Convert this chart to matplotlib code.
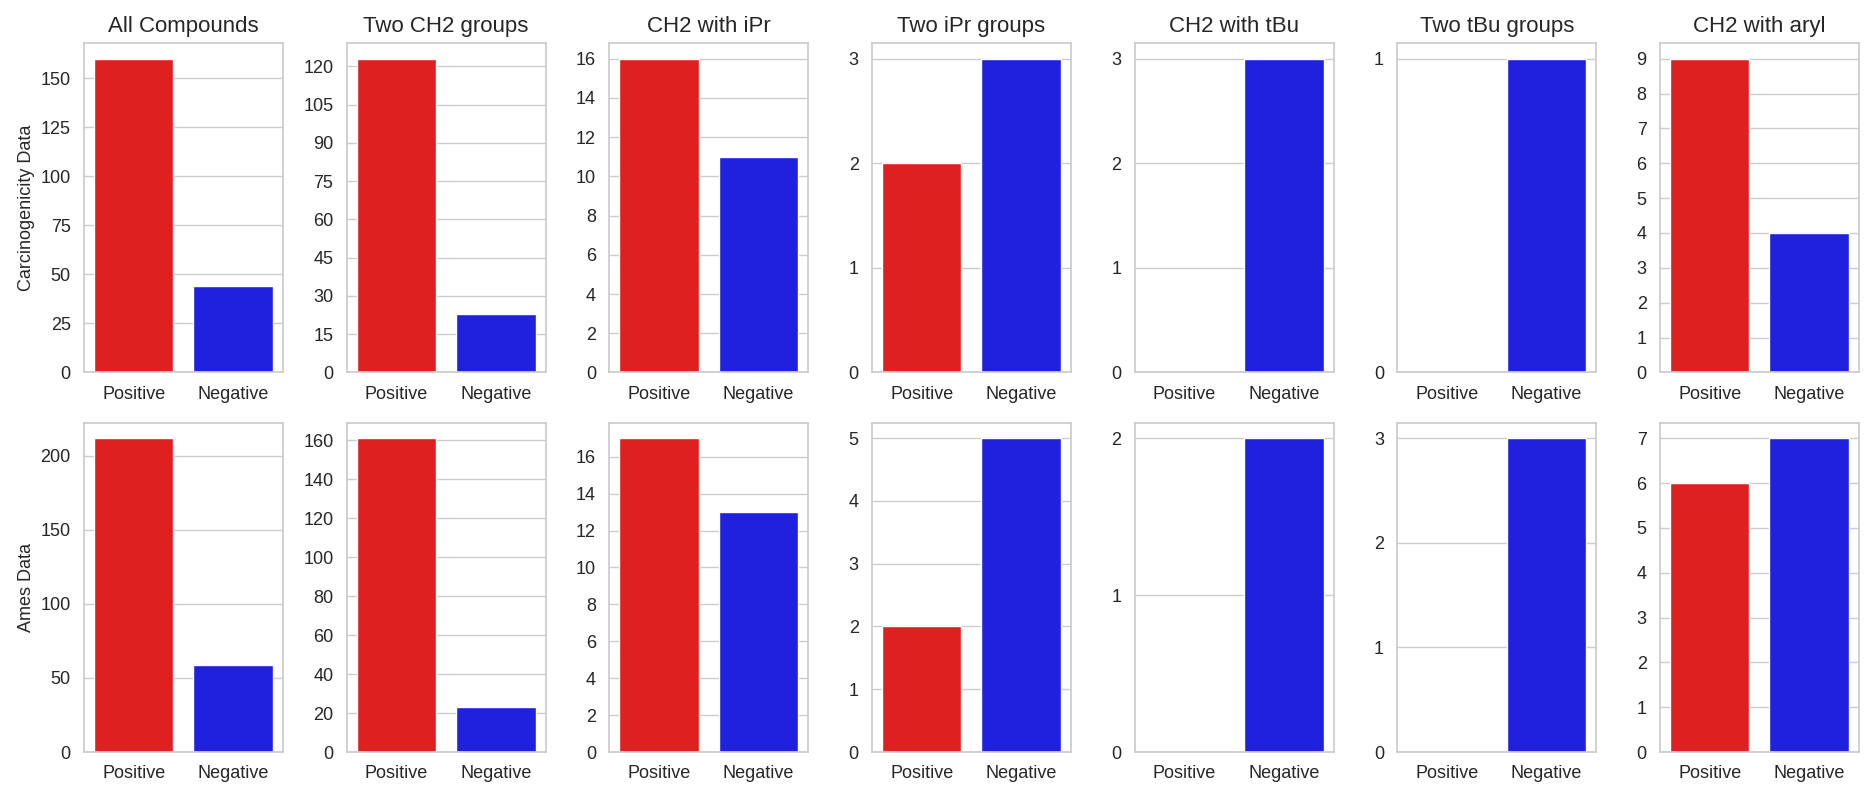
import matplotlib
matplotlib.use("Agg")
import matplotlib.pyplot as plt
import seaborn as sns
from matplotlib.ticker import MultipleLocator

sns.set_theme(style="whitegrid")
plt.rcParams['font.family'] = ['Arial', 'Liberation Sans', 'DejaVu Sans']

titles = ["All Compounds", "Two CH2 groups", "CH2 with iPr", "Two iPr groups",
          "CH2 with tBu", "Two tBu groups", "CH2 with aryl"]
labels = ["Positive", "Negative"]
row_labels = ["Carcinogenicity Data", "Ames Data"]

carc_pos = [160, 123, 16, 2, 0, 0, 9]
carc_neg = [44, 23, 11, 3, 3, 1, 4]
ames_pos = [212, 161, 17, 2, 0, 0, 6]
ames_neg = [59, 23, 13, 5, 2, 3, 7]

carc_steps = [25, 15, 2, 1, 1, 1, 1]
ames_steps = [50, 20, 2, 1, 1, 1, 1]

rows = [(carc_pos, carc_neg, carc_steps), (ames_pos, ames_neg, ames_steps)]

fig, axes = plt.subplots(2, 7, figsize=(18.69, 7.9), dpi=100)
for r, (pos, neg, steps) in enumerate(rows):
    for c in range(7):
        ax = axes[r, c]
        sns.barplot(x=labels, y=[pos[c], neg[c]], hue=labels,
                    palette=["red", "blue"], legend=False, ax=ax)
        ax.yaxis.set_major_locator(MultipleLocator(steps[c]))
        ax.set_xlabel("")
        if r == 0:
            ax.set_title(titles[c], fontsize=16, pad=8)
        if c == 0:
            ax.set_ylabel(row_labels[r], fontsize=13)
        else:
            ax.set_ylabel("")
        ax.tick_params(axis='both', labelsize=13)

fig.subplots_adjust(left=0.0449, right=0.9946, top=0.9456, bottom=0.0481,
                    wspace=0.32, hspace=0.152)
fig.savefig("out.png", dpi=100)
